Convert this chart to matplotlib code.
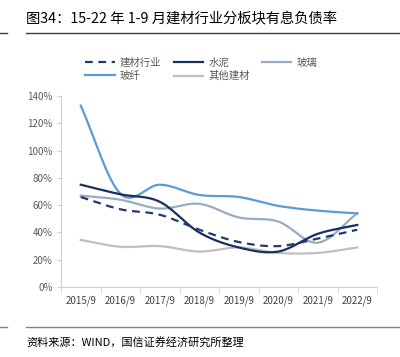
import matplotlib
matplotlib.use('Agg')
import matplotlib.pyplot as plt
import numpy as np
from matplotlib.lines import Line2D

plt.rcParams['font.family'] = ['Noto Sans CJK SC', 'DejaVu Sans']

# Daten
jahre = ['2015/9', '2016/9', '2017/9', '2018/9', '2019/9', '2020/9', '2021/9', '2022/9']
jiancai = [66, 57, 53, 42, 33, 30, 35.5, 42]
shuini = [75, 68, 62.5, 40, 29, 26, 39, 45.5]
boli = [67, 64, 57.5, 61, 51, 48, 32.5, 54]
boxian = [133, 68.5, 75, 67.5, 66, 59.5, 56, 54]
qita = [34.5, 29.5, 30, 26, 29, 25, 25, 29]
ytick_labels = ['0%', '20%', '40%', '60%', '80%', '100%', '120%', '140%']


def glatt(x, y, n=30):
    # Catmull-Rom Glättung wie in Excel (nur zum Zeichnen)
    x = np.asarray(x, float)
    y = np.asarray(y, float)
    px = np.concatenate([[2 * x[0] - x[1]], x, [2 * x[-1] - x[-2]]])
    py = np.concatenate([[2 * y[0] - y[1]], y, [2 * y[-1] - y[-2]]])
    xs, ys = [], []
    t = np.linspace(0, 1, n)
    for i in range(1, len(px) - 2):
        p0, p1, p2, p3 = py[i - 1], py[i], py[i + 1], py[i + 2]
        q0, q1, q2, q3 = px[i - 1], px[i], px[i + 1], px[i + 2]
        ys.append(0.5 * (2 * p1 + (-p0 + p2) * t + (2 * p0 - 5 * p1 + 4 * p2 - p3) * t ** 2
                         + (-p0 + 3 * p1 - 3 * p2 + p3) * t ** 3))
        xs.append(0.5 * (2 * q1 + (-q0 + q2) * t + (2 * q0 - 5 * q1 + 4 * q2 - q3) * t ** 2
                         + (-q0 + 3 * q1 - 3 * q2 + q3) * t ** 3))
    return np.concatenate(xs), np.concatenate(ys)


fig = plt.figure(figsize=(4, 3.57), dpi=100)
ax = fig.add_axes([0.1525, 0.196, 0.79, 0.535])

x = np.arange(len(jahre))
serien = [
    ('其他建材', qita, '#bfbfbf', '-'),
    ('玻璃', boli, '#9aabc2', '-'),
    ('玻纤', boxian, '#5b9bd5', '-'),
    ('水泥', shuini, '#1a2f5e', '-'),
    ('建材行业', jiancai, '#1f3b70', (0, (3.5, 2.5))),
]
for name, werte, farbe, stil in serien:
    xs, ys = glatt(x, werte)
    ax.plot(xs, ys, color=farbe, linestyle=stil, linewidth=1.6)

ax.set_xlim(-0.5, len(jahre) - 0.5)
ax.set_ylim(0, 140)
ax.set_yticks(np.arange(0, 141, 20))
ax.set_yticklabels(ytick_labels)
ax.set_xticks(x)
ax.set_xticklabels(jahre)
ax.set_xticks(np.arange(-0.5, len(jahre)), minor=True)
ax.tick_params(axis='x', which='major', length=0, labelsize=7, colors='#404040', pad=6)
ax.tick_params(axis='x', which='minor', length=4, color='#d0d0d0')
ax.tick_params(axis='y', length=3, color='#d0d0d0', labelsize=7, labelcolor='#595959', pad=3)

for s in ['top', 'right']:
    ax.spines[s].set_visible(False)
ax.spines['left'].set_color('#d0d0d0')
ax.spines['bottom'].set_color('#d0d0d0')

# Legende (spaltenweise sortiert, damit die Zeilen wie im Original erscheinen)
handles = [
    Line2D([], [], color='#1f3b70', linestyle=(0, (3.5, 2.5)), linewidth=1.6),
    Line2D([], [], color='#5b9bd5', linewidth=1.6),
    Line2D([], [], color='#1a2f5e', linewidth=1.6),
    Line2D([], [], color='#bfbfbf', linewidth=1.6),
    Line2D([], [], color='#9aabc2', linewidth=1.6),
]
labels = ['建材行业', '玻纤', '水泥', '其他建材', '玻璃']
fig.legend(handles, labels, loc='upper left', bbox_to_anchor=(0.19, 0.865), ncol=3,
           frameon=False, fontsize=7.5, labelcolor='#595959', handlelength=2.8,
           handletextpad=0.5, columnspacing=1.2, labelspacing=0.3)

# Titel und Rahmenlinien
fig.text(0.065, 0.948, '图34：15-22 年 1-9 月建材行业分板块有息负债率', fontsize=10.3,
         va='center', ha='left', color='#000000')
fig.add_artist(Line2D([0.065, 1.0], [0.908, 0.908], color='#404040', linewidth=1.0))
fig.add_artist(Line2D([0.0, 0.018], [0.908, 0.908], color='#404040', linewidth=1.0))
fig.add_artist(Line2D([0.065, 1.0], [0.084, 0.084], color='#808080', linewidth=1.0))
fig.add_artist(Line2D([0.0, 0.018], [0.084, 0.084], color='#808080', linewidth=1.0))
fig.text(0.065, 0.042, '资料来源：WIND，国信证券经济研究所整理', fontsize=8,
         va='center', ha='left', color='#000000')

plt.savefig('out.png', dpi=100)
